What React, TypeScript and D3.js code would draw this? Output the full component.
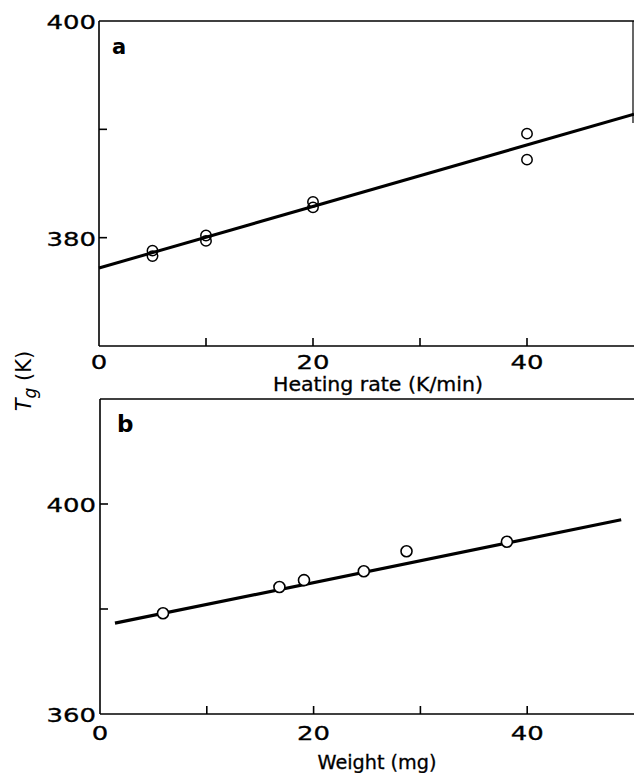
import React from "react";
import * as d3 from "d3";

// Panel a: Tg vs heating rate
const rateA = [5, 5, 10, 10, 20, 20, 40, 40];
const tgA = [378.8, 378.3, 380.2, 379.7, 383.3, 382.8, 389.6, 387.2];
const fitRateA = [0, 50];
const fitTgA = [377.2, 391.4];

// Panel b: Tg vs sample weight
const weightB = [5.9, 16.8, 19.1, 24.7, 28.7, 38.1];
const tgB = [379.2, 384.2, 385.5, 387.2, 391.0, 392.8];
const fitWeightB = [1.4, 48.8];
const fitTgB = [377.3, 397.0];

const xTicks = [10, 20, 30, 40];
const xTickLabels = [0, 20, 40];
const yTicksA = [380, 390];
const yLabelsA = [400, 380];
const yTicksB = [380, 400];
const yLabelsB = [400, 360];

const FONT = "'DejaVu Sans', sans-serif";

function NumLabel({ x, y, text, anchor }: { x: number; y: number; text: string; anchor: string }) {
  const w = text.length * 16.5;
  return (
    <text
      x={x}
      y={y}
      textAnchor={anchor as any}
      dominantBaseline="central"
      fontSize={19}
      fontFamily={FONT}
      textLength={w}
      lengthAdjust="spacingAndGlyphs"
      fill="#000"
      stroke="#000"
      strokeWidth={0.3}
    >
      {text}
    </text>
  );
}

export default function App() {
  const xA = d3.scaleLinear().domain([0, 50]).range([99, 634]);
  const yA = d3.scaleLinear().domain([370, 400]).range([346, 21]);
  const xB = d3.scaleLinear().domain([0, 50]).range([100, 634]);
  const yB = d3.scaleLinear().domain([360, 420]).range([714, 399]);

  const line = d3.line<[number, number]>();
  const fitA = line(fitRateA.map((r, i) => [xA(r), yA(fitTgA[i])] as [number, number]))!;
  const fitB = line(fitWeightB.map((w, i) => [xB(w), yB(fitTgB[i])] as [number, number]))!;

  const tick = 8;

  return (
    <svg width={634} height={773} style={{ position: "absolute", left: 0, top: 0 }}>
      <rect width={634} height={773} fill="#fff" />

      {/* Panel a frame */}
      <g stroke="#000" strokeWidth={1.6} fill="none">
        <line x1={xA(0)} y1={yA(400)} x2={xA(0)} y2={yA(370)} />
        <line x1={xA(0)} y1={yA(370)} x2={634} y2={yA(370)} />
        <line x1={xA(0)} y1={yA(400)} x2={634} y2={yA(400)} />
        <line x1={633} y1={yA(400)} x2={633} y2={123} strokeWidth={1.2} />
        {yTicksA.map((v) => (
          <line key={"ya" + v} x1={xA(0)} x2={xA(0) + tick} y1={yA(v)} y2={yA(v)} />
        ))}
        {xTicks.map((v) => (
          <line key={"xa" + v} x1={xA(v)} x2={xA(v)} y1={yA(370)} y2={yA(370) - tick} />
        ))}
      </g>
      {yLabelsA.map((v) => (
        <NumLabel key={"yla" + v} x={96} y={yA(v) + 1} text={String(v)} anchor="end" />
      ))}
      {xTickLabels.map((v) => (
        <NumLabel key={"xla" + v} x={xA(v)} y={362} text={String(v)} anchor="middle" />
      ))}
      <text x={378} y={391} textAnchor="middle" fontSize={19} fontFamily={FONT} fill="#000"
        textLength={210} lengthAdjust="spacingAndGlyphs" stroke="#000" strokeWidth={0.3}>
        Heating rate (K/min)
      </text>
      <text x={112} y={54} fontSize={21} fontWeight="bold" fontFamily={FONT} fill="#000">
        a
      </text>
      <path d={fitA} stroke="#000" strokeWidth={3} fill="none" />
      {rateA.map((r, i) => (
        <circle key={"pa" + i} cx={xA(r)} cy={yA(tgA[i])} r={5.2} fill="none" stroke="#000" strokeWidth={1.5} />
      ))}

      {/* Panel b frame */}
      <g stroke="#000" strokeWidth={1.6} fill="none">
        <line x1={xB(0)} y1={yB(420)} x2={xB(0)} y2={yB(360)} />
        <line x1={xB(0)} y1={yB(360)} x2={634} y2={yB(360)} />
        <line x1={xB(0)} y1={yB(420)} x2={634} y2={yB(420)} />
        {yTicksB.map((v) => (
          <line key={"yb" + v} x1={xB(0)} x2={xB(0) + tick} y1={yB(v)} y2={yB(v)} />
        ))}
        {xTicks.map((v) => (
          <line key={"xb" + v} x1={xB(v)} x2={xB(v)} y1={yB(360)} y2={yB(360) - tick} />
        ))}
      </g>
      {yLabelsB.map((v) => (
        <NumLabel key={"ylb" + v} x={96} y={yB(v) + 1} text={String(v)} anchor="end" />
      ))}
      {xTickLabels.map((v) => (
        <NumLabel key={"xlb" + v} x={xB(v)} y={733} text={String(v)} anchor="middle" />
      ))}
      <text x={377} y={769} textAnchor="middle" fontSize={19} fontFamily={FONT} fill="#000"
        textLength={119} lengthAdjust="spacingAndGlyphs" stroke="#000" strokeWidth={0.3}>
        Weight (mg)
      </text>
      <text x={117} y={432} fontSize={23} fontWeight="bold" fontFamily={FONT} fill="#000">
        b
      </text>
      <path d={fitB} stroke="#000" strokeWidth={3.2} fill="none" />
      {weightB.map((w, i) => (
        <circle key={"pb" + i} cx={xB(w)} cy={yB(tgB[i])} r={5.5} fill="#fff" stroke="#000" strokeWidth={1.6} />
      ))}

      {/* Shared y-axis title */}
      <text
        transform="translate(31,381) rotate(-90)"
        textAnchor="middle"
        fontSize={21}
        fontFamily={FONT}
        fill="#000"
      >
        <tspan fontStyle="italic">T</tspan>
        <tspan fontStyle="italic" fontSize={17} dy={5}>g</tspan>
        <tspan dy={-5}> (K)</tspan>
      </text>
    </svg>
  );
}
